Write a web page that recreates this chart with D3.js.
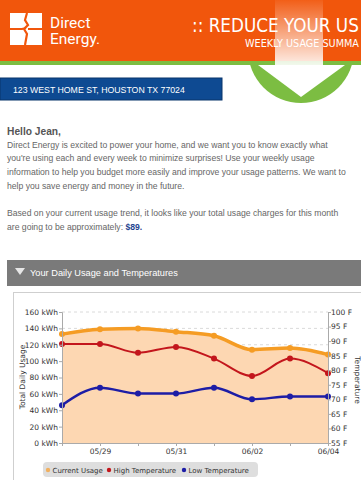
<!DOCTYPE html>
<html>
<head>
<meta charset="utf-8">
<script src="https://cdn.jsdelivr.net/npm/d3@7"></script>
<style>
  body { margin: 0; background: #fff; overflow: hidden; }
  svg { display: block; }
</style>
</head>
<body>
<svg id="page" width="361" height="480"></svg>
<script>
// chart data
const dates = ["05/28", "05/29", "05/30", "05/31", "06/01", "06/02", "06/03", "06/04"];
const usage = [133, 139, 140, 136, 131, 114, 116, 108];
const highTemp = [89, 89, 86, 88, 84, 78, 84, 79];
const lowTemp = [68, 74, 72, 72, 74, 70, 71, 71];
const usageTicks = [0, 20, 40, 60, 80, 100, 120, 140, 160];
const tempTicks = [55, 60, 65, 70, 75, 80, 85, 90, 95, 100];

const bodyLines = [
  "Direct Energy is excited to power your home, and we want you to know exactly what",
  "you're using each and every week to minimize surprises! Use your weekly usage",
  "information to help you budget more easily and improve your usage patterns. We want to",
  "help you save energy and money in the future."
];

const svg = d3.select("#page");
const defs = svg.append("defs");

// fit a text element to a given width by adjusting its font size
function fit(sel, w) {
  const len = sel.node().getComputedTextLength();
  const fs = parseFloat(sel.attr("font-size"));
  sel.attr("font-size", (fs * w / len).toFixed(2));
  return sel;
}

// ---- header ----
svg.append("circle").attr("cx", 301).attr("cy", 50).attr("r", 53).attr("fill", "#7cbd42");
svg.append("rect").attr("x", 0).attr("y", 0).attr("width", 361).attr("height", 61).attr("fill", "#f1560c");
svg.append("rect").attr("x", 0).attr("y", 61).attr("width", 361).attr("height", 4).attr("fill", "#7cbd42");

const grad = defs.append("linearGradient").attr("id", "shaft").attr("x1", 0).attr("x2", 0).attr("y1", 0).attr("y2", 1);
grad.append("stop").attr("offset", "0%").attr("stop-color", "#fff").attr("stop-opacity", 0.05);
grad.append("stop").attr("offset", "100%").attr("stop-color", "#fff").attr("stop-opacity", 0.9);
svg.append("rect").attr("x", 275).attr("y", 0).attr("width", 48).attr("height", 65).attr("fill", "url(#shaft)");
svg.append("path").attr("d", "M258,65 L345,65 L301,97 Z").attr("fill", "#fff");

// logo
svg.append("rect").attr("x", 10).attr("y", 13).attr("width", 32).attr("height", 32).attr("fill", "#fff");
svg.append("path")
  .attr("d", "M27,13 L25,20 L28,25 L24,29 L27,34 L25,45 M10,29 L22,29 L26,28 M28,29 L42,29")
  .attr("fill", "none").attr("stroke", "#f1560c").attr("stroke-width", 2.2);
const logo = svg.append("text").attr("font-family", "Roboto, 'Open Sans', sans-serif")
  .attr("font-size", 15.5).attr("fill", "#fff");
logo.append("tspan").attr("x", 50).attr("y", 28).text("Direct");
logo.append("tspan").attr("x", 50).attr("y", 44).text("Energy.");

// the banner texts run past the right edge in the reference; show the visible part
fit(svg.append("text").attr("x", 192).attr("y", 32)
  .attr("font-family", "'Liberation Sans Narrow', 'DejaVu Sans Condensed', sans-serif")
  .attr("font-size", 23).attr("fill", "#fff").text(":: REDUCE YOUR US"), 167);
fit(svg.append("text").attr("x", 245).attr("y", 47)
  .attr("font-family", "'Liberation Sans Narrow', 'DejaVu Sans Condensed', sans-serif")
  .attr("font-size", 11).attr("fill", "#fff").text("WEEKLY USAGE SUMMA"), 114);

// address bar
svg.append("rect").attr("x", 0).attr("y", 78).attr("width", 222).attr("height", 22)
  .attr("fill", "#0e4a92").attr("stroke", "#08346b").attr("stroke-width", 1);
fit(svg.append("text").attr("x", 13).attr("y", 92.5)
  .attr("font-family", "'Liberation Sans', Arial, sans-serif").attr("font-size", 9)
  .attr("fill", "#fff").text("123 WEST HOME ST, HOUSTON TX 77024"), 172);

// letter text
const sans = "'Liberation Sans', Arial, sans-serif";
fit(svg.append("text").attr("x", 7).attr("y", 135).attr("font-family", sans)
  .attr("font-size", 10).attr("font-weight", "bold").attr("fill", "#555").text("Hello Jean,"), 54);

const l0 = svg.append("text").attr("x", 7).attr("y", 147.5).attr("font-family", sans)
  .attr("font-size", 10).attr("fill", "#666").text(bodyLines[0]);
fit(l0, 321);
const bodySize = l0.attr("font-size");
bodyLines.slice(1).forEach((t, i) => {
  svg.append("text").attr("x", 7).attr("y", 147.5 + 13.8 * (i + 1)).attr("font-family", sans)
    .attr("font-size", bodySize).attr("fill", "#666").text(t);
});
svg.append("text").attr("x", 7).attr("y", 216).attr("font-family", sans)
  .attr("font-size", bodySize).attr("fill", "#666")
  .text("Based on your current usage trend, it looks like your total usage charges for this month");
const last = svg.append("text").attr("x", 7).attr("y", 230).attr("font-family", sans)
  .attr("font-size", bodySize).attr("fill", "#666");
last.append("tspan").text("are going to be approximately: ");
last.append("tspan").attr("font-weight", "bold").attr("fill", "#1f4590").text("$89.");

// section bar
svg.append("rect").attr("x", 7).attr("y", 260).attr("width", 360).attr("height", 26).attr("fill", "#7a7a7a");
svg.append("path").attr("d", "M15,268 L25,268 L20,275 Z").attr("fill", "#e6e6e6");
fit(svg.append("text").attr("x", 30).attr("y", 276).attr("font-family", sans)
  .attr("font-size", 9).attr("fill", "#fff").text("Your Daily Usage and Temperatures"), 148);

// chart box
svg.append("rect").attr("x", 13.5).attr("y", 292.5).attr("width", 360).attr("height", 200)
  .attr("fill", "#fff").attr("stroke", "#cfcfcf");

// ---- chart ----
const x = d3.scalePoint().domain(dates).range([62, 328]);
const yUse = d3.scaleLinear().domain([0, 160]).range([443, 312]);
const yTemp = d3.scaleLinear().domain([55, 100]).range([443, 312]);
const axisFont = "'DejaVu Sans', Verdana, sans-serif";

// gridlines
svg.append("g").selectAll("line").data(usageTicks.filter(d => d > 0)).join("line")
  .attr("x1", 62).attr("x2", 328)
  .attr("y1", d => yUse(d)).attr("y2", d => yUse(d))
  .attr("stroke", "#dadada").attr("stroke-dasharray", "3,3");

// usage area
svg.append("path").datum(usage)
  .attr("d", d3.area().x((d, i) => x(dates[i])).y0(yUse(0)).y1(d => yUse(d)).curve(d3.curveMonotoneX))
  .attr("fill", "#fdd7b2");

function series(vals, yS, color, w) {
  svg.append("path").datum(vals)
    .attr("d", d3.line().x((d, i) => x(dates[i])).y(d => yS(d)).curve(d3.curveMonotoneX))
    .attr("fill", "none").attr("stroke", color).attr("stroke-width", w);
  svg.append("g").selectAll("circle").data(vals).join("circle")
    .attr("cx", (d, i) => x(dates[i])).attr("cy", d => yS(d)).attr("r", 3).attr("fill", color);
}
series(usage, yUse, "#f59c24", 3.5);
series(highTemp, yTemp, "#c3161c", 2);
series(lowTemp, yTemp, "#1d1da6", 2.5);

// axes
function styleAxis(g) {
  g.selectAll(".domain").attr("stroke", "#aaa");
  g.selectAll(".tick line").attr("stroke", "#aaa");
  g.selectAll("text").attr("fill", "#333").attr("font-family", axisFont).attr("font-size", 7.5);
}
svg.append("g").attr("transform", "translate(62,0)")
  .call(d3.axisLeft(yUse).tickValues(usageTicks).tickFormat(d => d + " kWh").tickSize(3).tickPadding(1))
  .call(styleAxis);
svg.append("g").attr("transform", "translate(328,0)")
  .call(d3.axisRight(yTemp).tickValues(tempTicks).tickFormat(d => d + " F").tickSize(3).tickPadding(0))
  .call(styleAxis);
svg.append("g").attr("transform", "translate(0,443)")
  .call(d3.axisBottom(x).tickFormat((d, i) => i % 2 ? d : "").tickSize(3).tickPadding(3))
  .call(styleAxis);

svg.append("text").attr("transform", "translate(25,377) rotate(-90)").attr("text-anchor", "middle")
  .attr("font-family", axisFont).attr("font-size", 7.5).attr("fill", "#333").text("Total Daily Usage");
svg.append("text").attr("transform", "translate(355,380) rotate(90)").attr("text-anchor", "middle")
  .attr("font-family", axisFont).attr("font-size", 7.5).attr("fill", "#333").text("Temperature");

// legend
const legendItems = [
  { name: "Current Usage", color: "#f0b060", x: 48 },
  { name: "High Temperature", color: "#c3161c", x: 109 },
  { name: "Low Temperature", color: "#1d1da6", x: 184 }
];
svg.append("rect").attr("x", 43).attr("y", 462).attr("width", 215).attr("height", 15).attr("rx", 4)
  .attr("fill", "#dedede");
const lg = svg.append("g").selectAll("g").data(legendItems).join("g");
lg.append("circle").attr("cx", d => d.x).attr("cy", 470).attr("r", 2.2).attr("fill", d => d.color);
lg.append("text").attr("x", d => d.x + 4.5).attr("y", 472.5).attr("font-family", axisFont)
  .attr("font-size", 7).attr("fill", "#333").text(d => d.name);
</script>
</body>
</html>
